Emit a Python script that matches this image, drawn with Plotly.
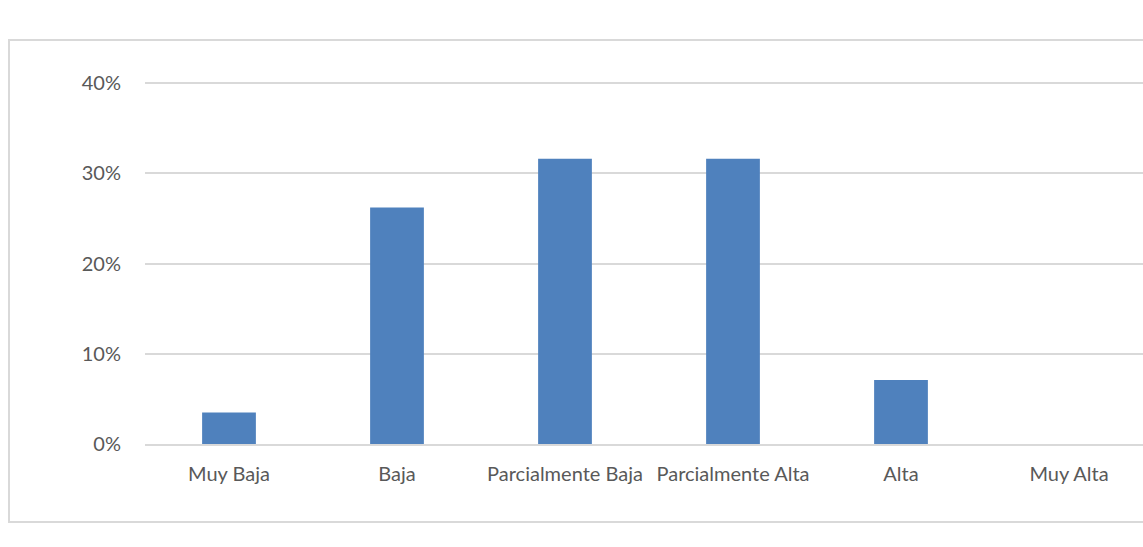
import plotly.graph_objects as go

# Distribution of responses by level
categories = ["Muy Baja", "Baja", "Parcialmente Baja", "Parcialmente Alta", "Alta", "Muy Alta"]
shares = [0.035, 0.262, 0.316, 0.316, 0.071, 0.0]
y_ticks = [0.0, 0.1, 0.2, 0.3, 0.4]
y_tick_labels = ["0%", "10%", "20%", "30%", "40%"]

W, H = 1143, 547
left, right_px, top, bottom = 145, 1143, 60, 444   # plot area in pixels
cat_px = 168                                          # width of one category slot
bar_color = "#4f81bd"
grid_color = "#d9d9d9"
text_color = "#595959"
font_family = "Lato, Open Sans, sans-serif"

x_pos = list(range(len(categories)))
x_max = -0.5 + (right_px - left) / cat_px
y_top = (bottom - top) / (bottom - 83) * 0.4

fig = go.Figure(
    go.Bar(
        x=x_pos,
        y=shares,
        width=0.32,
        marker=dict(color=bar_color, line=dict(width=0)),
        hoverinfo="skip",
    )
)

fig.update_layout(
    width=W,
    height=H,
    margin=dict(l=left, r=W - right_px, t=top, b=H - bottom),
    paper_bgcolor="white",
    plot_bgcolor="white",
    showlegend=False,
    font=dict(family=font_family, size=17, color=text_color),
    xaxis=dict(
        range=[-0.5, x_max],
        tickmode="array",
        tickvals=x_pos,
        ticktext=categories,
        showgrid=False,
        zeroline=False,
        showline=True,
        linecolor=grid_color,
        linewidth=2,
        ticks="",
        ticklabelstandoff=11,
        tickfont=dict(size=20, color=text_color),
        fixedrange=True,
    ),
    yaxis=dict(
        range=[0, y_top],
        tickmode="array",
        tickvals=y_ticks,
        ticktext=y_tick_labels,
        showgrid=True,
        gridcolor=grid_color,
        gridwidth=1.5,
        zeroline=False,
        showline=False,
        ticks="",
        ticklabelstandoff=23,
        tickfont=dict(size=20, color=text_color),
        fixedrange=True,
    ),
)

# Outer chart frame
plot_w = right_px - left
plot_h = bottom - top
fig.add_shape(
    type="rect",
    xref="paper",
    yref="paper",
    x0=(9 - left) / plot_w,
    x1=(1160 - left) / plot_w,
    y0=(bottom - 522) / plot_h,
    y1=(bottom - 40) / plot_h,
    line=dict(color=grid_color, width=2),
    fillcolor="rgba(0,0,0,0)",
    layer="below",
)

fig.write_html("out.html", config={"displayModeBar": False})
